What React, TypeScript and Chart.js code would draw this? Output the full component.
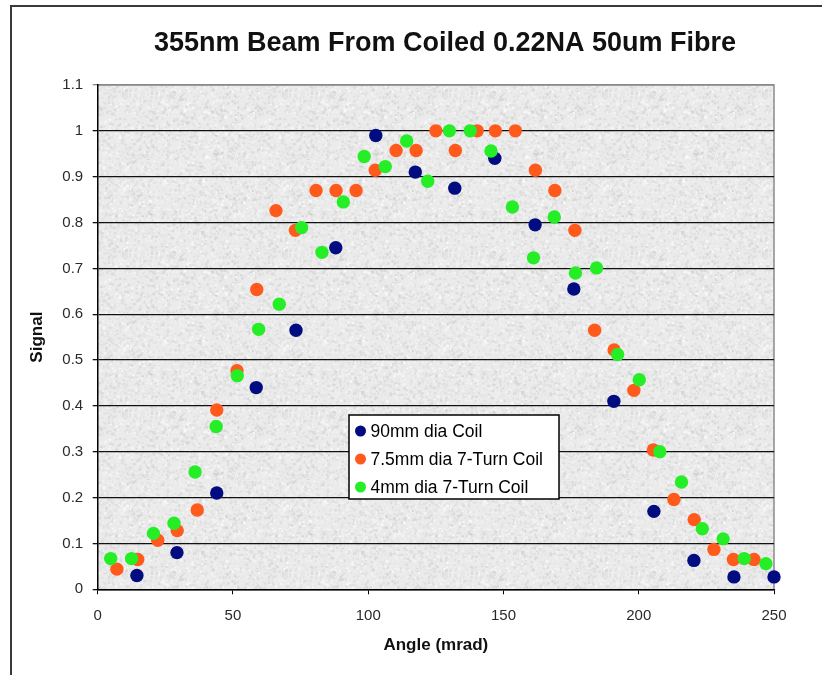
import React, { useEffect, useRef } from "react";
import { Chart, registerables } from "chart.js";

Chart.register(...registerables);

const TITLE = "355nm Beam From Coiled 0.22NA 50um Fibre";
const X_TITLE = "Angle (mrad)";
const Y_TITLE = "Signal";

const seriesLabels = ["90mm dia Coil", "7.5mm dia 7-Turn Coil", "4mm dia 7-Turn Coil"];
const seriesColors = ["#000c80", "#ff5a1c", "#26ee26"];

const blueX = [14.5, 29.3, 44.0, 58.6, 73.3, 88.0, 102.8, 117.4, 132.0, 146.8, 161.7, 176.0, 190.8, 205.6, 220.4, 235.2, 250.0];
const blueY = [0.03, 0.08, 0.21, 0.44, 0.565, 0.745, 0.99, 0.91, 0.875, 0.94, 0.795, 0.655, 0.41, 0.17, 0.063, 0.027, 0.027];

const orangeX = [7.1, 14.8, 22.2, 29.4, 36.8, 44.0, 51.5, 58.8, 65.9, 73.1, 80.7, 88.1, 95.5, 102.6, 110.3, 117.7, 125.0, 132.2, 140.3, 147.0, 154.4, 161.8, 169.0, 176.4, 183.7, 190.9, 198.2, 205.4, 213.0, 220.5, 227.8, 235.0, 242.6];
const orangeY = [0.044, 0.065, 0.107, 0.128, 0.173, 0.391, 0.477, 0.654, 0.826, 0.783, 0.87, 0.87, 0.87, 0.914, 0.957, 0.957, 1.0, 0.957, 1.0, 1.0, 1.0, 0.914, 0.87, 0.783, 0.565, 0.522, 0.434, 0.304, 0.196, 0.152, 0.087, 0.065, 0.065];

const greenX = [4.8, 12.5, 20.6, 28.2, 36.0, 43.8, 51.6, 59.5, 67.1, 75.4, 82.9, 90.8, 98.5, 106.3, 114.2, 122.0, 130.0, 137.7, 145.4, 153.3, 161.1, 168.8, 176.6, 184.4, 192.2, 200.2, 207.8, 215.8, 223.5, 231.2, 239.0, 247.0];
const greenY = [0.067, 0.067, 0.122, 0.144, 0.256, 0.355, 0.466, 0.567, 0.622, 0.789, 0.735, 0.845, 0.944, 0.922, 0.978, 0.89, 1.0, 1.0, 0.956, 0.834, 0.723, 0.812, 0.69, 0.701, 0.512, 0.457, 0.3, 0.234, 0.132, 0.11, 0.067, 0.056];

const xMin = 0, xMax = 250, xStep = 50;
const yMin = 0, yMax = 1.1, yStep = 0.1;

const FONT = "'Liberation Sans', Arial, sans-serif";

function makeTexture(): HTMLCanvasElement {
  const c = document.createElement("canvas");
  c.width = 160;
  c.height = 160;
  const g = c.getContext("2d")!;
  g.fillStyle = "#ebebeb";
  g.fillRect(0, 0, 160, 160);
  let s = 12345;
  const rnd = () => {
    s = (s * 1103515245 + 12345) & 0x7fffffff;
    return s / 0x7fffffff;
  };
  for (let i = 0; i < 4500; i++) {
    const x = rnd() * 160;
    const y = rnd() * 160;
    const v = Math.round(205 + rnd() * 50);
    g.fillStyle = `rgba(${v},${v},${v},0.65)`;
    const w = 1 + rnd() * 2;
    const h = 1 + rnd() * 2;
    g.fillRect(x, y, w, h);
  }
  return c;
}

const decorPlugin = {
  id: "decor",
  beforeDraw(chart: any) {
    const { ctx, chartArea: a } = chart;
    ctx.save();
    ctx.strokeStyle = "#3a3a3a";
    ctx.lineWidth = 2;
    ctx.beginPath();
    ctx.moveTo(11, 675);
    ctx.lineTo(11, 6);
    ctx.lineTo(822, 6);
    ctx.stroke();
    if (!chart.$tex) chart.$tex = ctx.createPattern(makeTexture(), "repeat");
    ctx.fillStyle = chart.$tex;
    ctx.fillRect(a.left, a.top, a.right - a.left, a.bottom - a.top);
    ctx.strokeStyle = "#8a8a8a";
    ctx.lineWidth = 1.5;
    ctx.beginPath();
    ctx.moveTo(a.left, a.top);
    ctx.lineTo(a.right, a.top);
    ctx.lineTo(a.right, a.bottom);
    ctx.stroke();
    ctx.fillStyle = "#111";
    ctx.font = `bold 27px ${FONT}`;
    ctx.textAlign = "center";
    ctx.textBaseline = "middle";
    ctx.fillText(TITLE, 445, 44);
    ctx.restore();
  },
  afterDraw(chart: any) {
    const { ctx, chartArea: a } = chart;
    ctx.save();
    const bx = a.left + 251.3;
    const by = a.top + 330;
    const bw = 210;
    const bh = 84;
    ctx.fillStyle = "#ffffff";
    ctx.fillRect(bx, by, bw, bh);
    ctx.strokeStyle = "#000";
    ctx.lineWidth = 1.5;
    ctx.strokeRect(bx, by, bw, bh);
    ctx.font = `17.5px ${FONT}`;
    ctx.textAlign = "left";
    ctx.textBaseline = "middle";
    chart.data.datasets.forEach((ds: any, i: number) => {
      const cy = by + 16 + i * 28;
      ctx.fillStyle = ds.backgroundColor;
      ctx.beginPath();
      ctx.arc(bx + 11.5, cy, 5.5, 0, Math.PI * 2);
      ctx.fill();
      ctx.fillStyle = "#000";
      ctx.fillText(ds.label, bx + 21.5, cy + 1);
    });
    ctx.restore();
  },
};

export default function App() {
  const ref = useRef<HTMLCanvasElement>(null);
  useEffect(() => {
    document.body.style.margin = "0";
    const xs = [blueX, orangeX, greenX];
    const ys = [blueY, orangeY, greenY];
    const chart = new Chart(ref.current!, {
      type: "scatter",
      data: {
        datasets: seriesLabels.map((label, i) => ({
          label,
          data: xs[i].map((x, k) => ({ x, y: ys[i][k] })),
          backgroundColor: seriesColors[i],
          borderColor: seriesColors[i],
          borderWidth: 0,
          pointRadius: 6.7,
          clip: false,
          order: 2 - i,
        })),
      },
      options: {
        responsive: false,
        animation: false,
        events: [],
        layout: { padding: { left: 0, right: 48, top: 85, bottom: 0 } },
        plugins: {
          legend: { display: false },
          title: { display: false },
          tooltip: { enabled: false },
        },
        scales: {
          x: {
            type: "linear",
            min: xMin,
            max: xMax,
            afterFit: (s: any) => {
              s.height = 85.7;
            },
            ticks: {
              stepSize: xStep,
              color: "#2a2a2a",
              padding: 13,
              font: { family: FONT, size: 15 },
            },
            grid: {
              drawOnChartArea: false,
              drawTicks: true,
              tickLength: 5,
              color: "#000",
            },
            border: { display: true, color: "#000", width: 1.5 },
            title: {
              display: true,
              text: X_TITLE,
              color: "#111",
              font: { family: FONT, size: 17, weight: "bold" },
              padding: { top: 0, bottom: 19.8 },
            },
          },
          y: {
            type: "linear",
            min: yMin,
            max: yMax,
            afterFit: (s: any) => {
              s.width = 97.7;
            },
            ticks: {
              stepSize: yStep,
              color: "#2a2a2a",
              padding: 9.5,
              font: { family: FONT, size: 15 },
              callback: (v: any) => String(Number(Number(v).toFixed(1))),
            },
            grid: {
              drawOnChartArea: true,
              drawTicks: true,
              tickLength: 5,
              lineWidth: 1.3,
              color: (c: any) => (c.tick && c.tick.value > 1.05 ? "#8a8a8a" : "#111"),
            },
            border: { display: true, color: "#000", width: 1.5 },
            title: {
              display: true,
              text: Y_TITLE,
              color: "#111",
              font: { family: FONT, size: 17, weight: "bold" },
              padding: { top: 27, bottom: 0 },
            },
          },
        },
      },
      plugins: [decorPlugin],
    } as any);
    return () => chart.destroy();
  }, []);
  return (
    <div style={{ width: 822, height: 675, background: "#fff" }}>
      <canvas ref={ref} width={822} height={675} style={{ display: "block" }} />
    </div>
  );
}
